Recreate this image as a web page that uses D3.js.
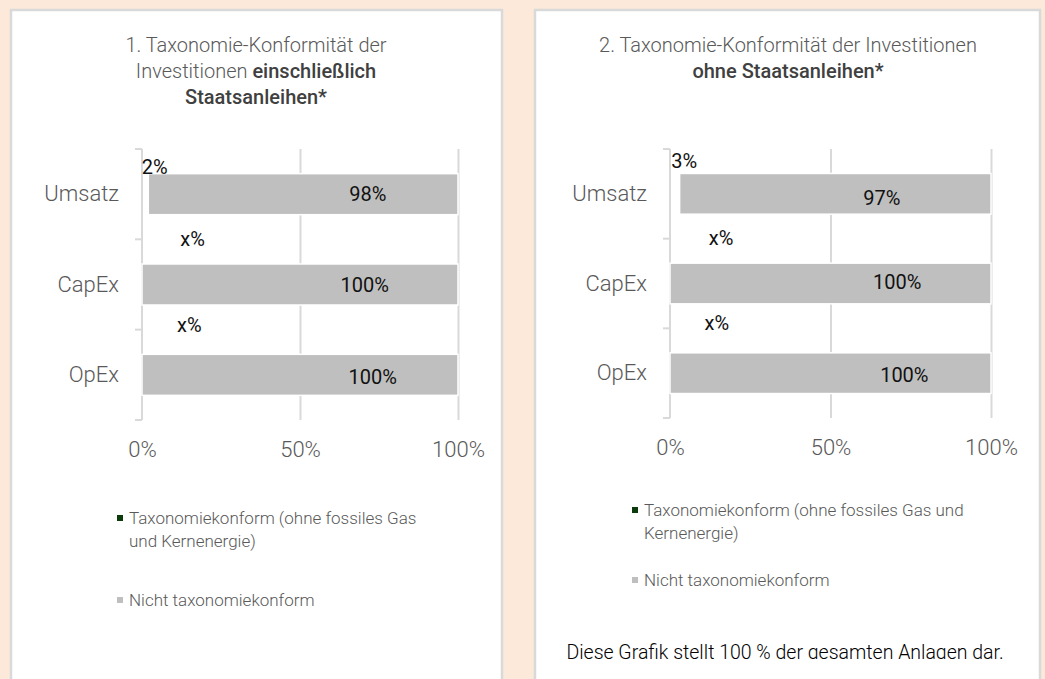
<!DOCTYPE html>
<html>
<head>
<meta charset="utf-8">
<script src="https://cdn.jsdelivr.net/npm/d3@7"></script>
<style>
  html, body { margin: 0; padding: 0; background: #FCE9D9; }
  svg { display: block; }
  text { font-family: Roboto, "Noto Sans", sans-serif; }
</style>
</head>
<body>
<svg id="chart" width="1045" height="679"></svg>
<script>
// ---------------- DATA ----------------
const categories = ["Umsatz", "CapEx", "OpEx"];
const xTicks = [0, 50, 100];

// Panel 1: incl. government bonds
const conform1 = [2, 0, 0];
const nonConform1 = [98, 100, 100];
const conformLabels1 = ["2%", "x%", "x%"];
const nonConformLabels1 = ["98%", "100%", "100%"];

// Panel 2: without government bonds
const conform2 = [3, 0, 0];
const nonConform2 = [97, 100, 100];
const conformLabels2 = ["3%", "x%", "x%"];
const nonConformLabels2 = ["97%", "100%", "100%"];

const seriesNames = ["Taxonomiekonform (ohne fossiles Gas und Kernenergie)", "Nicht taxonomiekonform"];
const seriesColors = ["#0B3B0B", "#BFBFBF"];

// ---------------- LAYOUT ----------------
const svg = d3.select("#chart");
const TXT = "#595959";

const panels = [
  {
    box: [11, 10, 491, 700],
    titleX: 256, titleY: 45,
    title: [[["1. Taxonomie-Konformität der", false]], [["Investitionen ", false], ["einschließlich", true]], [["Staatsanleihen*", true]]],
    x: [142, 458], y: [149, 420],
    conform: conform1, nonConform: nonConform1,
    conformLabels: conformLabels1, nonConformLabels: nonConformLabels1,
    cLabX: [4, 16, 15], cLabDy: [-27, -45.5, -50],
    nLabX: [71.5, 70.5, 73], nLabDy: [0, 0, 2],
    legendX: 117, legendY: [518, 600], legendLines: [["Taxonomiekonform (ohne fossiles Gas", "und Kernenergie)"], ["Nicht taxonomiekonform"]],
    footnote: null
  },
  {
    box: [535, 10, 505, 700],
    titleX: 788, titleY: 45,
    title: [[["2. Taxonomie-Konformität der Investitionen", false]], [["ohne Staatsanleihen*", true]]],
    x: [670, 991], y: [149, 418],
    conform: conform2, nonConform: nonConform2,
    conformLabels: conformLabels2, nonConformLabels: nonConformLabels2,
    cLabX: [4.4, 15.9, 14.6], cLabDy: [-32.5, -45.5, -50.5],
    nLabX: [66, 70.8, 73], nLabDy: [4, -2, 1.5],
    legendX: 632, legendY: [510, 580], legendLines: [["Taxonomiekonform (ohne fossiles Gas und", "Kernenergie)"], ["Nicht taxonomiekonform"]],
    footnote: "Diese Grafik stellt 100 % der gesamten Anlagen dar."
  }
];

// clip for footnote (descenders cut in reference)
svg.append("defs").append("clipPath").attr("id", "footClip")
  .append("rect").attr("x", 0).attr("y", 0).attr("width", 1045).attr("height", 659);

panels.forEach((p, pi) => {
  const g = svg.append("g");
  // panel box
  g.append("rect")
    .attr("x", p.box[0]).attr("y", p.box[1])
    .attr("width", p.box[2]).attr("height", p.box[3])
    .attr("fill", "#FFFFFF").attr("stroke", "#D9D9D9").attr("stroke-width", 2.5);

  // title
  const t = g.append("text")
    .attr("text-anchor", "middle")
    .attr("fill", TXT)
    .attr("font-size", 20)
    .attr("font-weight", 300);
  p.title.forEach((line, li) => {
    line.forEach((seg, si) => {
      const ts = t.append("tspan").text(seg[0])
        .attr("font-weight", seg[1] ? 500 : 300)
        .attr("fill", seg[1] ? "#404040" : TXT);
      if (si === 0) ts.attr("x", p.titleX).attr("y", p.titleY + li * 26).attr("dy", "0.35em");
    });
  });

  // scales
  const x = d3.scaleLinear().domain([0, 100]).range(p.x);
  const y = d3.scaleBand().domain(categories).range(p.y)
    .paddingInner(0.546).paddingOuter(0.273);

  // gridlines + tick labels
  const xAxis = d3.axisBottom(x).tickValues(xTicks)
    .tickFormat(d => d + "%")
    .tickSize(-(p.y[1] - p.y[0])).tickPadding(21);
  const xg = g.append("g").attr("transform", `translate(0,${p.y[1]})`).call(xAxis);
  xg.select(".domain").remove();
  xg.selectAll(".tick line").attr("stroke", "#D9D9D9").attr("stroke-width", 2)
    .filter(d => d === 0).remove();
  xg.selectAll(".tick text").attr("fill", TXT).attr("font-size", 22).attr("font-weight", 300)
    .attr("font-family", "Roboto, sans-serif");

  // category axis line with boundary ticks
  const ax = g.append("g");
  const boundaries = categories.map(c => y(c) - y.step() * y.paddingOuter()).concat([p.y[1]]);
  ax.append("line").attr("x1", x(0)).attr("x2", x(0)).attr("y1", p.y[0]).attr("y2", p.y[1])
    .attr("stroke", "#D9D9D9").attr("stroke-width", 2);
  ax.selectAll("line.b").data(boundaries).join("line").attr("class", "b")
    .attr("x1", x(0) - 7).attr("x2", x(0)).attr("y1", d => d).attr("y2", d => d)
    .attr("stroke", "#D9D9D9").attr("stroke-width", 2);

  const yAxis = d3.axisLeft(y).tickSize(0).tickPadding(23);
  const yg = g.append("g").attr("transform", `translate(${x(0)},0)`).call(yAxis);
  yg.select(".domain").remove();
  yg.selectAll(".tick text").attr("fill", TXT).attr("font-size", 22).attr("font-weight", 300)
    .attr("font-family", "Roboto, sans-serif");

  // stacked bars
  const rows = categories.map((c, i) => ({ c, a: p.conform[i], b: p.nonConform[i], i }));
  // conform segment (rendered without visible fill as in reference)
  g.selectAll("rect.conf").data(rows).join("rect").attr("class", "conf")
    .attr("x", d => x(0)).attr("y", d => y(d.c))
    .attr("width", d => x(d.a) - x(0)).attr("height", y.bandwidth())
    .attr("fill", "#FFFFFF").attr("fill-opacity", 0);
  g.selectAll("rect.non").data(rows).join("rect").attr("class", "non")
    .attr("x", d => x(d.a)).attr("y", d => y(d.c))
    .attr("width", d => x(Math.min(100, d.a + d.b)) - x(d.a)).attr("height", y.bandwidth())
    .attr("fill", seriesColors[1]).attr("stroke", "#FFFFFF").attr("stroke-width", 1.5);

  // data labels
  g.selectAll("text.nlab").data(rows).join("text").attr("class", "nlab")
    .attr("x", d => x(p.nLabX[d.i]))
    .attr("y", d => y(d.c) + y.bandwidth() / 2 + p.nLabDy[d.i])
    .attr("dy", "0.35em").attr("text-anchor", "middle")
    .attr("font-size", 20).attr("fill", "#111")
    .text(d => p.nonConformLabels[d.i]);
  g.selectAll("text.clab").data(rows).join("text").attr("class", "clab")
    .attr("x", d => x(p.cLabX[d.i]))
    .attr("y", d => y(d.c) + y.bandwidth() / 2 + p.cLabDy[d.i])
    .attr("dy", "0.35em").attr("text-anchor", "middle")
    .attr("font-size", 20).attr("fill", "#111")
    .text(d => p.conformLabels[d.i]);

  // legend
  seriesNames.forEach((s, si) => {
    const ly = p.legendY[si];
    g.append("rect").attr("x", p.legendX).attr("y", ly - 3).attr("width", 6).attr("height", 6)
      .attr("fill", seriesColors[si]);
    const lt = g.append("text").attr("fill", TXT).attr("font-size", 17).attr("font-weight", 300);
    p.legendLines[si].forEach((ln, k) => {
      lt.append("tspan").attr("x", p.legendX + 12).attr("y", ly + k * 23).attr("dy", "0.35em").text(ln);
    });
  });

  if (p.footnote) {
    g.append("text").attr("x", 785).attr("y", 652).attr("dy", "0.35em")
      .attr("text-anchor", "middle").attr("font-size", 19.5).attr("font-weight", 300).attr("fill", "#000")
      .attr("clip-path", "url(#footClip)")
      .text(p.footnote);
  }
});
</script>
</body>
</html>
